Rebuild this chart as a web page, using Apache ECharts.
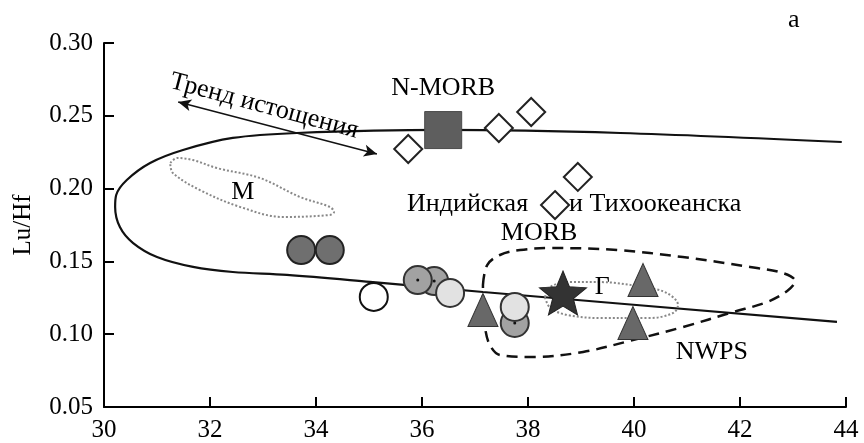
<!DOCTYPE html>
<html>
<head>
<meta charset="utf-8">
<script src="https://cdn.jsdelivr.net/npm/echarts@6/dist/echarts.min.js"></script>
<style>html,body{margin:0;padding:0;background:#fff}#c{width:864px;height:443px}</style>
</head>
<body>
<div id="c"></div>
<script>
// ---- data ----
const xTicks = [30, 32, 34, 36, 38, 40, 42, 44];
const yTicks = [0.05, 0.10, 0.15, 0.20, 0.25, 0.30];
const diamonds = [[35.74,0.2272],[37.45,0.2416],[38.06,0.2526],[38.94,0.2080],[38.51,0.1887]];
const nmorb = [[36.40,0.2402]];
const darkCircles = [[33.72,0.1578],[34.26,0.1578]];
const whiteCircles = [[35.09,0.1256]];
const midCircles = [[36.23,0.1365],[35.92,0.1372],[37.75,0.1077]];
const lightCircles = [[36.53,0.1283],[37.75,0.1187]];
const triangles = [[37.15,0.1166],[40.17,0.1372],[39.98,0.1077]];
const stars = [[38.66,0.1283]];
const mantleOutline = [[43.92,0.2320],[39.74,0.2382],[36.40,0.2403],[33.64,0.2382],[32.43,0.2348],[31.49,0.2265],[30.87,0.2176],[30.43,0.2059],[30.23,0.1956],[30.21,0.1874],[30.30,0.1736],[30.55,0.1626],[31.00,0.1530],[31.68,0.1462],[32.43,0.1427],[33.45,0.1407],[35.02,0.1359],[37.15,0.1290],[43.83,0.1084]];
const fieldM = [[31.25,0.2176],[31.38,0.2210],[31.68,0.2196],[32.13,0.2141],[32.94,0.2073],[33.70,0.1942],[34.26,0.1874],[34.34,0.1839],[34.26,0.1819],[33.38,0.1805],[32.57,0.1874],[31.81,0.1990],[31.30,0.2107],[31.25,0.2176]];
const fieldG = [[38.32,0.1255],[38.42,0.1324],[38.74,0.1358],[39.36,0.1358],[40.17,0.1324],[40.62,0.1283],[40.83,0.1201],[40.74,0.1146],[40.30,0.1111],[39.36,0.1111],[38.74,0.1132],[38.42,0.1180],[38.32,0.1255]];
const fieldNWPS = [[37.15,0.1338],[37.23,0.1475],[37.47,0.1544],[37.85,0.1578],[38.42,0.1592],[39.68,0.1578],[40.92,0.1530],[42.19,0.1462],[42.81,0.1420],[43.04,0.1365],[42.89,0.1297],[42.51,0.1221],[41.87,0.1152],[40.92,0.1049],[39.98,0.0960],[39.04,0.0878],[38.09,0.0843],[37.47,0.0857],[37.28,0.0926],[37.19,0.1043],[37.15,0.1201],[37.15,0.1338]];
const trendArrow = [[31.40,0.2595],[35.15,0.2238]];
const annotations = [
  [33.02,0.2567,'Тренд истощения',-15],
  [36.40,0.2691,'N-MORB',0],
  [36.86,0.1894,'Индийская',0],
  [40.40,0.1894,'и Тихоокеанска',0],
  [38.21,0.1695,'MORB',0],
  [32.62,0.1977,'M',0],
  [39.40,0.1324,'Г',0],
  [41.47,0.0878,'NWPS',0]
];

const FONT = 'Liberation Serif';
const starPath = 'path://M50 0 L62.93 32.2 L97.55 34.55 L70.92 56.8 L79.39 90.45 L50 72 L20.61 90.45 L29.08 56.8 L2.45 34.55 L37.07 32.2 Z';

function lineSeries(data, type, color, width, dash) {
  return {type:'line', data:data, smooth:0.35, showSymbol:false, silent:true, z:1, clip:false,
    lineStyle:{color:color, width:width, type:dash ? dash : type}};
}
function scat(data, symbol, size, fill, border, bw, z) {
  return {type:'scatter', data:data, symbol:symbol, symbolSize:size, z:z||3, silent:true,
    itemStyle:{color:fill, borderColor:border, borderWidth:bw, opacity:1}};
}

const chart = echarts.init(document.getElementById('c'), null, {renderer:'canvas'});
chart.setOption({
  animation:false,
  title:{text:'a', left:783, top:2, textStyle:{fontFamily:FONT, fontSize:26, fontWeight:'normal', color:'#000'}},
  grid:{left:104, right:18, top:43, bottom:36},
  xAxis:{type:'value', min:xTicks[0], max:xTicks[xTicks.length-1], interval:2,
    axisLine:{lineStyle:{color:'#000', width:2}},
    axisTick:{inside:true, length:10, lineStyle:{color:'#000', width:2}},
    axisLabel:{fontFamily:FONT, fontSize:25, color:'#000', margin:11},
    splitLine:{show:false}},
  yAxis:{type:'value', min:yTicks[0], max:yTicks[yTicks.length-1], interval:0.05,
    name:'Lu/Hf', nameLocation:'middle', nameGap:68, nameRotate:90,
    nameTextStyle:{fontFamily:FONT, fontSize:25, color:'#000'},
    axisLine:{lineStyle:{color:'#000', width:2}},
    axisTick:{inside:true, length:10, lineStyle:{color:'#000', width:2}},
    axisLabel:{fontFamily:FONT, fontSize:25, color:'#000', margin:11, formatter:v=>v.toFixed(2)},
    splitLine:{show:false}},
  series:[
    lineSeries(mantleOutline, 'solid', '#111', 2.2),
    lineSeries(fieldM, 'dotted', '#888', 2),
    lineSeries(fieldG, 'dotted', '#888', 2),
    lineSeries(fieldNWPS, 'dashed', '#111', 2.5, [11,7]),
    {type:'line', data:[], silent:true,
      markLine:{silent:true, symbol:['arrow','arrow'], symbolSize:[9,13], label:{show:false},
        lineStyle:{color:'#111', width:1.5, type:'solid'},
        data:[[{coord:trendArrow[0]},{coord:trendArrow[1]}]]}},
    scat(diamonds, 'diamond', 28, '#fff', '#222', 2),
    scat(nmorb, 'rect', 37, '#5e5e5e', '#4a4a4a', 1),
    scat(darkCircles, 'circle', 28, '#6f6f6f', '#222', 2),
    scat(whiteCircles, 'circle', 28, '#fff', '#111', 2),
    scat(midCircles, 'circle', 28, '#a2a2a2', '#333', 2),
    scat(midCircles, 'circle', 3, '#111', '#111', 0, 4),
    scat(lightCircles, 'circle', 28, '#e2e2e2', '#333', 2, 5),
    scat(triangles, 'triangle', [30,33], '#686868', '#333', 1),
    scat(stars, starPath, [47,44], '#333', '#222', 1),
    {type:'scatter', silent:true, z:6, symbolSize:1, itemStyle:{color:'rgba(0,0,0,0)'},
      data:annotations.map(a=>({value:[a[0],a[1]], name:a[2],
        label:{show:true, position:'inside', rotate:a[3], formatter:a[2], opacity:1,
          textBorderWidth:0, fontFamily:FONT, fontSize:26, color:'#000'}}))}
  ]
});
</script>
</body>
</html>
